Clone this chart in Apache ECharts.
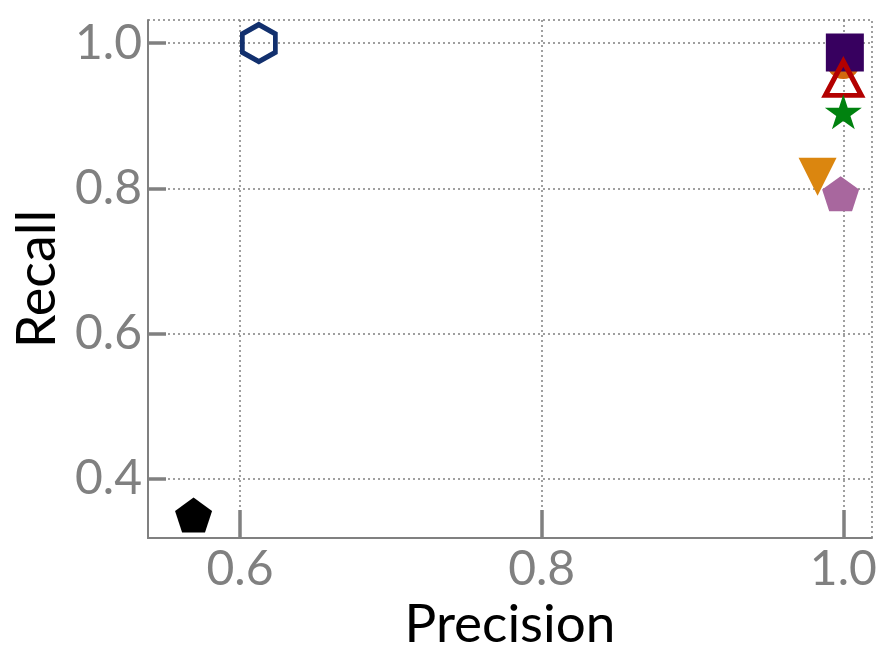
<!DOCTYPE html>
<html>
<head>
<meta charset="utf-8">
<script src="https://cdn.jsdelivr.net/npm/echarts@6/dist/echarts.min.js"></script>
<style>
  html, body { margin: 0; padding: 0; background: #fff; }
  #chart { width: 896px; height: 672px; }
</style>
</head>
<body>
<div id="chart"></div>
<script>
// data
var precision = [0.5692, 0.6125, 1.000, 1.001, 1.000, 1.000, 0.9829, 0.9982];
var recall    = [0.3504, 1.000, 0.974, 0.987, 0.9514, 0.9054, 0.816, 0.7927];
var xTicks = [0.6, 0.8, 1.0];
var yTicks = [0.4, 0.6, 0.8, 1.0];

// marker shapes
var pentagon = 'path://M0,-100 L95.1,-30.9 L58.8,80.9 L-58.8,80.9 L-95.1,-30.9 Z';
var hexagon = 'path://M0,-100 L86.6,-50 L86.6,50 L0,100 L-86.6,50 L-86.6,-50 Z';
var star = 'path://M0,-100 L22.45,-30.9 L95.1,-30.9 L36.33,11.8 L58.8,80.9 L0,38.2 L-58.8,80.9 L-36.33,11.8 L-95.1,-30.9 L-22.45,-30.9 Z';

var styles = [
    {symbol: pentagon, size: [37, 35], color: '#000000'},
    {symbol: hexagon, size: [33, 37], color: 'transparent', border: '#12306e', bw: 5},
    {symbol: 'circle', size: 34, color: '#d2690e'},
    {symbol: 'rect', size: 38, color: '#37005f'},
    {symbol: 'triangle', size: [36, 34], color: 'transparent', border: '#b30000', bw: 5},
    {symbol: star, size: [37, 35], color: '#00820f'},
    {symbol: 'triangle', size: 38, color: '#db860f', rotate: 180},
    {symbol: pentagon, size: [37, 35], color: '#a8679e'}
];

var grey = '#808080';
var font = 'Lato';

var series = precision.map(function (p, i) {
    var s = styles[i];
    return {
        type: 'scatter',
        data: [[p, recall[i]]],
        symbol: s.symbol,
        symbolSize: s.size,
        symbolRotate: s.rotate || 0,
        itemStyle: {
            color: s.color,
            borderColor: s.border || s.color,
            borderWidth: s.bw || 0,
            opacity: 1
        },
        z: 3 + i,
        silent: true
    };
});

var chart = echarts.init(document.getElementById('chart'));
chart.setOption({
    animation: false,
    grid: {
        left: 148, right: 24, top: 20, bottom: 134,
        outerBoundsMode: 'none',
        containLabel: false,
        show: true,
        borderColor: grey,
        borderWidth: 1.5,
        borderType: [2, 3]
    },
    xAxis: {
        type: 'value',
        min: 0.539, max: 1.019,
        name: 'Precision',
        nameLocation: 'middle',
        nameGap: 51,
        nameTextStyle: {fontFamily: font, fontSize: 53, color: '#000'},
        axisLine: {lineStyle: {color: grey, width: 2}},
        axisTick: {inside: true, length: 28, lineStyle: {color: grey, width: 3.5}, customValues: xTicks},
        axisLabel: {
            customValues: xTicks, fontFamily: font, fontSize: 48, color: grey, margin: 8,
            formatter: function (v) { return v.toFixed(1); }
        },
        splitLine: {show: true, lineStyle: {color: grey, width: 1.5, type: [2, 3]}}
    },
    yAxis: {
        type: 'value',
        min: 0.3188, max: 1.0317,
        name: 'Recall',
        nameLocation: 'middle',
        nameGap: 80,
        nameTextStyle: {fontFamily: font, fontSize: 54, color: '#000'},
        axisLine: {lineStyle: {color: grey, width: 2}},
        axisTick: {inside: true, length: 18, lineStyle: {color: grey, width: 3.5}, customValues: yTicks},
        axisLabel: {
            customValues: yTicks, fontFamily: font, fontSize: 48, color: grey, margin: 6,
            formatter: function (v) { return v.toFixed(1); }
        },
        splitLine: {show: true, lineStyle: {color: grey, width: 1.5, type: [2, 3]}}
    },
    series: series
});
</script>
</body>
</html>
